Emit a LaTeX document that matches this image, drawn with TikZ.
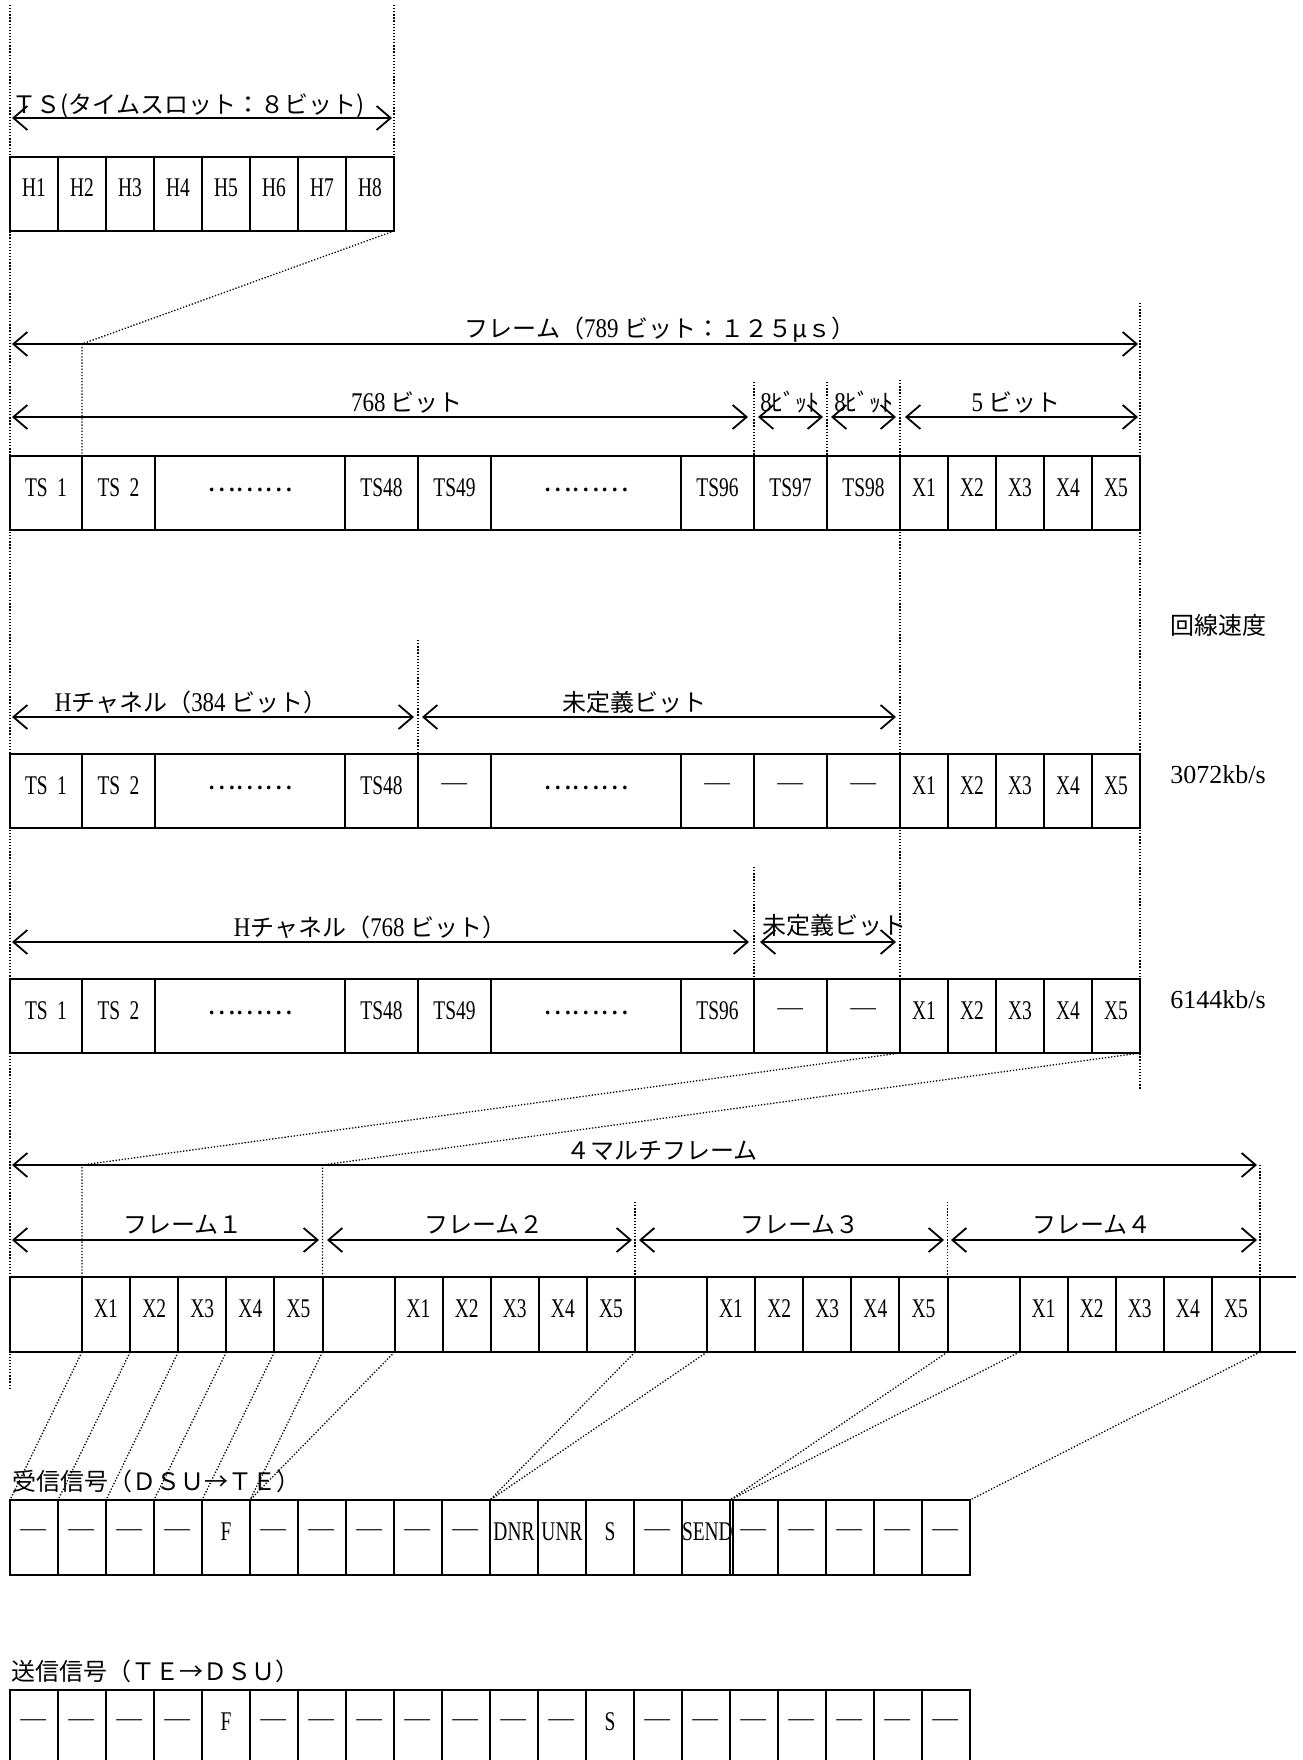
\documentclass[tikz,border=0pt]{standalone}
\usepackage{fontspec}
\usepackage{graphicx}
\usetikzlibrary{arrows.meta}
\newfontfamily\jp{Noto Sans CJK JP}
\newfontfamily\lat[FakeStretch=0.72]{Liberation Serif}
\newfontfamily\latm[FakeStretch=0.85]{Liberation Serif}
\newfontfamily\latw{Liberation Serif}
\newcommand\lm[1]{{\latm\fontsize{13.5}{13.5}\selectfont #1}}
\newcommand\dsh{\scalebox{1.12}[1]{\jp ―}}
\newcommand\dts{\raisebox{2.5pt}{\jp ………}}
\newcommand\mkcell[6]{\node[cell, minimum width={#4*0.5pt}, minimum height={#5*0.5pt}] (#1) at ({#2},{#3}) {#6};}
\tikzset{
  cell/.style={draw, line width=1pt, inner sep=0pt, outer sep=0pt, anchor=north west,
    text height=9pt, text depth=6pt, font=\lat\fontsize{13.5}{13.5}\selectfont},
  dim/.style={{Straight Barb[length=7pt,width=12pt]}-{Straight Barb[length=7pt,width=12pt]}, line width=0.9pt},
  guide/.style={line width=0.65pt, dash pattern=on 0.65pt off 0.9pt},
  lbl/.style={font=\jp\fontsize{12}{12}\selectfont, inner sep=0pt, anchor=base},
}
\begin{document}
\begin{tikzpicture}[x=0.5pt, y=-0.5pt]
\useasboundingbox (0,0) rectangle (1302,1760);

% ---- TS row
\foreach \i in {1,...,8} { \mkcell{h\i}{48*\i-38}{157}{48}{74}{H\i} }

% ---- frame row
\foreach \k/\x/\w/\lb in {1/10/72/{TS\hspace{.35em}1}, 2/82/73/{TS\hspace{.35em}2}, 3/155/190/\dts, 4/345/73/TS48, 5/418/73/TS49, 6/491/190/\dts, 7/681/73/TS96, 8/754/73/TS97, 9/827/73/TS98, 10/900/48/X1, 11/948/48/X2, 12/996/48/X3, 13/1044/48/X4, 14/1092/48/X5}
  { \mkcell{a\k}{\x}{456}{\w}{74}{\lb} }
% ---- 3072 row
\foreach \k/\x/\w/\lb in {1/10/72/{TS\hspace{.35em}1}, 2/82/73/{TS\hspace{.35em}2}, 3/155/190/\dts, 4/345/73/TS48, 5/418/73/\dsh, 6/491/190/\dts, 7/681/73/\dsh, 8/754/73/\dsh, 9/827/73/\dsh, 10/900/48/X1, 11/948/48/X2, 12/996/48/X3, 13/1044/48/X4, 14/1092/48/X5}
  { \mkcell{b\k}{\x}{754}{\w}{74}{\lb} }
% ---- 6144 row
\foreach \k/\x/\w/\lb in {1/10/72/{TS\hspace{.35em}1}, 2/82/73/{TS\hspace{.35em}2}, 3/155/190/\dts, 4/345/73/TS48, 5/418/73/TS49, 6/491/190/\dts, 7/681/73/TS96, 8/754/73/\dsh, 9/827/73/\dsh, 10/900/48/X1, 11/948/48/X2, 12/996/48/X3, 13/1044/48/X4, 14/1092/48/X5}
  { \mkcell{c\k}{\x}{979}{\w}{74}{\lb} }

% ---- multiframe row
\foreach \f in {0,1,2,3} {
  \mkcell{m\f b}{10+312.5*\f}{1277}{72}{75}{}
  \foreach \j in {1,...,5} { \mkcell{m\f x\j}{82+312.5*\f+48.1*(\j-1)}{1277}{48.1}{75}{X\j} }
}
\draw[line width=1pt] (m3x5.north east) -- ++(36,0);
\draw[line width=1pt] (m3x5.south east) -- ++(36,0);

% ---- receive row
\foreach \k/\lb in {1/\dsh, 2/\dsh, 3/\dsh, 4/\dsh, 5/F, 6/\dsh, 7/\dsh, 8/\dsh, 9/\dsh, 10/\dsh, 11/DNR, 12/UNR, 13/S, 14/\dsh, 15/SEND, 16/\dsh, 17/\dsh, 18/\dsh, 19/\dsh, 20/\dsh}
  { \mkcell{r\k}{48*\k-38}{1500}{48}{75}{\lb} }
% ---- send row
\foreach \k/\lb in {1/\dsh, 2/\dsh, 3/\dsh, 4/\dsh, 5/F, 6/\dsh, 7/\dsh, 8/\dsh, 9/\dsh, 10/\dsh, 11/\dsh, 12/\dsh, 13/S, 14/\dsh, 15/\dsh, 16/\dsh, 17/\dsh, 18/\dsh, 19/\dsh, 20/\dsh}
  { \mkcell{s\k}{48*\k-38}{1690}{48}{75}{\lb} }

% ---- guide (dotted) lines
\coordinate (top0) at (10,5); \coordinate (bot0) at (10,1390);
\draw[guide] (top0) -- (bot0);
\coordinate (tsR) at (394,5);
\draw[guide] (tsR) -- (h8.north east);
\coordinate (frA) at (82,344);
\draw[guide] (h8.south east) -- (frA) -- (a2.north west);
\coordinate (xR) at (1140,303); \coordinate (xRb) at (1140,1089);
\draw[guide] (xR) -- (xRb);
\coordinate (g97) at (754,382); \draw[guide] (g97) -- (a8.north west);
\coordinate (g98) at (827,382); \draw[guide] (g98) -- (a9.north west);
\coordinate (gx1) at (900,380); \draw[guide] (gx1) -- (c10.south west);
\coordinate (g49) at (418,640); \draw[guide] (g49) -- (b5.north west);
\coordinate (g97c) at (754,867); \draw[guide] (g97c) -- (c8.north west);
\coordinate (mA) at (82,1165); \coordinate (mB) at (322.5,1165);
\draw[guide] (c10.south west) -- (mA) -- (m0x1.north west);
\draw[guide] (c14.south east) -- (mB) -- (m1b.north west);
\coordinate (mC) at (635,1202); \draw[guide] (mC) -- (m2b.north west);
\coordinate (mD) at (947.5,1202); \draw[guide] (mD) -- (m3b.north west);
\coordinate (mE) at (1260,1165); \draw[guide] (mE) -- (m3x5.north east);
% multiframe -> receive
\draw[guide] (m0x1.south west) -- (r1.north west);
\draw[guide] (m0x2.south west) -- (r2.north west);
\draw[guide] (m0x3.south west) -- (r3.north west);
\draw[guide] (m0x4.south west) -- (r4.north west);
\draw[guide] (m0x5.south west) -- (r5.north west);
\draw[guide] (m0x5.south east) -- (r6.north west);
\draw[guide] (m1x1.south west) -- (r6.north west);
\draw[guide] (m1x5.south east) -- (r11.north west);
\draw[guide] (m2x1.south west) -- (r11.north west);
\draw[guide] (m2x5.south east) -- (r16.north west);
\draw[guide] (m3x1.south west) -- (r16.north west);
\draw[guide] (m3x5.south east) -- (r20.north east);

% ---- dimension arrows
\coordinate (d1a) at (12,118); \coordinate (d1b) at (392,118);
\draw[dim] (d1a) -- (d1b);
\coordinate (d2a) at (12,344); \coordinate (d2b) at (1138,344);
\draw[dim] (d2a) -- (d2b);
\coordinate (d3a) at (12,417); \coordinate (d3b) at (748,417);
\draw[dim] (d3a) -- (d3b);
\coordinate (d4a) at (758,417); \coordinate (d4b) at (823,417);
\draw[dim] (d4a) -- (d4b);
\coordinate (d5a) at (831,417); \coordinate (d5b) at (896,417);
\draw[dim] (d5a) -- (d5b);
\coordinate (d6a) at (905,417); \coordinate (d6b) at (1138,417);
\draw[dim] (d6a) -- (d6b);
\coordinate (d7a) at (12,717); \coordinate (d7b) at (414,717);
\draw[dim] (d7a) -- (d7b);
\coordinate (d8a) at (422,717); \coordinate (d8b) at (896,717);
\draw[dim] (d8a) -- (d8b);
\coordinate (d9a) at (12,942); \coordinate (d9b) at (749,942);
\draw[dim] (d9a) -- (d9b);
\coordinate (d10a) at (760,942); \coordinate (d10b) at (896,942);
\draw[dim] (d10a) -- (d10b);
\coordinate (d11a) at (12,1165); \coordinate (d11b) at (1257,1165);
\draw[dim] (d11a) -- (d11b);
\coordinate (f1a) at (12,1240); \coordinate (f1b) at (319,1240);
\draw[dim] (f1a) -- (f1b);
\coordinate (f2a) at (327,1240); \coordinate (f2b) at (632,1240);
\draw[dim] (f2a) -- (f2b);
\coordinate (f3a) at (639,1240); \coordinate (f3b) at (944,1240);
\draw[dim] (f3a) -- (f3b);
\coordinate (f4a) at (951,1240); \coordinate (f4b) at (1257,1240);
\draw[dim] (f4a) -- (f4b);

% ---- labels
\node[lbl, anchor=base west] (lts) at (12,114) {ＴＳ(タイムスロット：８ビット)};
\node[lbl] (lfr) at (660,337) {フレーム（\lm{789} ビット：１２５μｓ）};
\node[lbl] (l768) at (407,411) {\lm{768} ビット};
\node[lbl] (l8a) at (790,411) {\lm{8}ﾋﾞｯﾄ};
\node[lbl] (l8b) at (864,411) {\lm{8}ﾋﾞｯﾄ};
\node[lbl] (l5) at (1016,411) {\lm{5} ビット};
\node[lbl] (lh384) at (191,711) {\lm{H}チャネル（\lm{384} ビット）};
\node[lbl] (lu1) at (634,711) {未定義ビット};
\node[lbl] (lh768) at (370,936) {\lm{H}チャネル（\lm{768} ビット）};
\node[lbl, anchor=base west] (lu2) at (762,934) {未定義ビット};
\node[lbl] (lmf) at (662,1159) {４マルチフレーム};
\node[lbl] (lf1) at (183,1233) {フレーム１};
\node[lbl] (lf2) at (484,1233) {フレーム２};
\node[lbl] (lf3) at (800,1233) {フレーム３};
\node[lbl] (lf4) at (1092,1233) {フレーム４};
\node[lbl, anchor=west] (lsp) at (1170,625) {回線速度};
\node[anchor=west, inner sep=0pt, font=\latw\fontsize{13}{13}\selectfont] (l3072) at (1170,775) {3072kb/s};
\node[anchor=west, inner sep=0pt, font=\latw\fontsize{13}{13}\selectfont] (l6144) at (1170,1000) {6144kb/s};
\node[lbl, anchor=base west] (lrx) at (12,1490) {受信信号（ＤＳＵ→ＴＥ）};
\node[lbl, anchor=base west] (ltx) at (11,1680) {送信信号（ＴＥ→ＤＳＵ）};
\end{tikzpicture}
\end{document}
